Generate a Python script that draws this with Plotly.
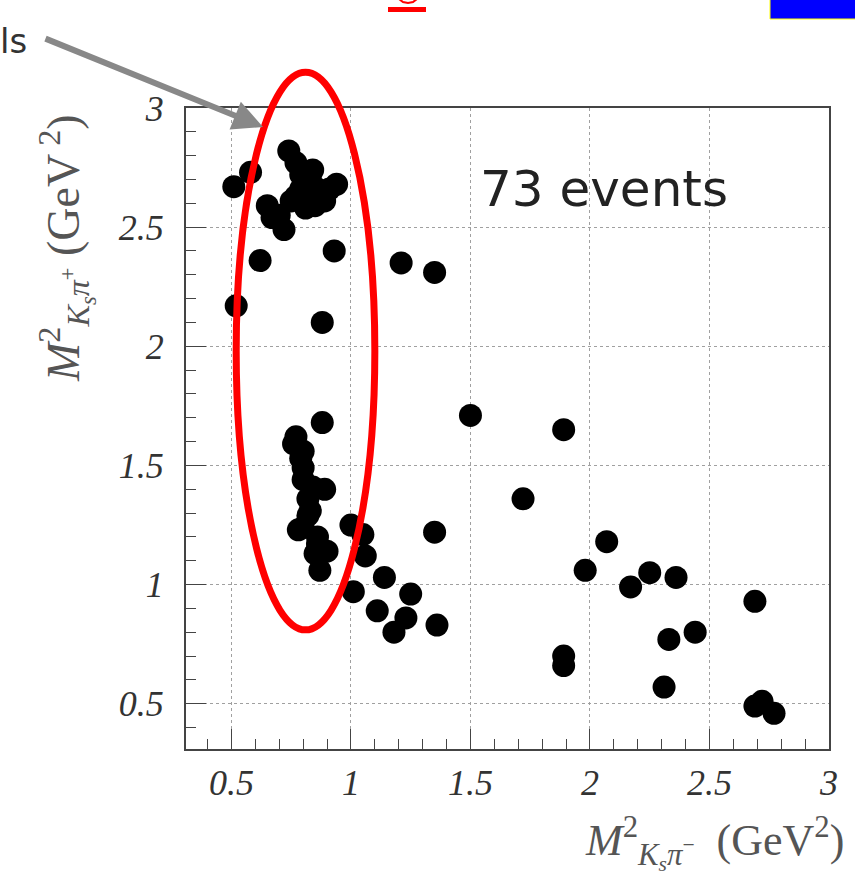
import plotly.graph_objects as go

# Dalitz-plot events: M^2(Ks pi-) vs M^2(Ks pi+), in GeV^2
m2_kspim = [
    0.51, 0.58, 0.74, 0.77, 0.84, 0.86, 0.79, 0.94, 0.89, 0.81, 0.65, 0.67, 0.72,
    0.77, 0.93, 0.62, 0.52, 0.88, 1.21, 1.35, 0.83, 0.75, 0.85, 0.79, 0.70, 0.91,
    0.88, 0.77, 0.80, 0.80, 0.80, 0.89, 0.82, 0.82, 0.80, 0.86, 0.90, 0.87, 1.00,
    1.05, 1.06, 1.14, 1.01, 1.25, 1.11, 1.23, 1.18, 1.36, 1.35, 0.78, 0.84, 0.79,
    0.85, 0.83, 0.76, 0.86,
    1.50, 1.89, 1.72, 2.07, 1.98, 2.25, 2.36, 2.17, 2.69, 2.44, 2.33, 1.89, 1.89,
    2.31, 2.69, 2.72, 2.77,
]
m2_kspip = [
    2.67, 2.73, 2.82, 2.77, 2.74, 2.66, 2.66, 2.68, 2.61, 2.58, 2.59, 2.54, 2.49,
    2.63, 2.40, 2.36, 2.17, 2.10, 2.35, 2.31, 2.71, 2.61, 2.59, 2.72, 2.55, 2.66,
    1.68, 1.62, 1.56, 1.49, 1.44, 1.40, 1.36, 1.29, 1.24, 1.20, 1.14, 1.06, 1.25,
    1.21, 1.12, 1.03, 0.97, 0.96, 0.89, 0.86, 0.80, 0.83, 1.22, 1.23, 1.41, 1.53,
    1.13, 1.31, 1.59, 1.17,
    1.71, 1.65, 1.36, 1.18, 1.06, 1.05, 1.03, 0.99, 0.93, 0.80, 0.77, 0.70, 0.66,
    0.57, 0.49, 0.51, 0.46,
]

tick_vals = [0.5, 1, 1.5, 2, 2.5, 3]
tick_text = ["0.5", "1", "1.5", "2", "2.5", "3"]

X_RANGE = [0.31, 3.0]
Y_RANGE = [0.31, 3.0]

# signal region highlighted with an ellipse (data coordinates)
roi_center = (0.81, 1.98)
roi_half = (0.29, 1.17)

W, H = 855, 879
MARGIN = dict(l=186, r=26, t=108, b=130, pad=0)
PW = W - MARGIN["l"] - MARGIN["r"]
PH = H - MARGIN["t"] - MARGIN["b"]


def data_to_paper_x(v):
    return (v - X_RANGE[0]) / (X_RANGE[1] - X_RANGE[0])


def data_to_paper_y(v):
    return (v - Y_RANGE[0]) / (Y_RANGE[1] - Y_RANGE[0])


def px_x(p):
    return (p - MARGIN["l"]) / PW


def px_y(p):
    return (H - MARGIN["b"] - p) / PH


serif = "Liberation Serif"
sans = "DejaVu Sans"

fig = go.Figure()
fig.add_trace(go.Scatter(
    x=m2_kspim, y=m2_kspip, mode="markers",
    marker=dict(size=23, color="black", line=dict(width=0)),
    hoverinfo="skip", showlegend=False,
))

axis_common = dict(
    tickvals=tick_vals, ticktext=tick_text,
    ticks="inside", ticklen=20, tickwidth=1, tickcolor="#444",
    showline=True, linecolor="#444", linewidth=2, mirror=True,
    showgrid=True, gridcolor="#a0a0a0", gridwidth=1, griddash="dot",
    zeroline=False,
    tickfont=dict(family=serif, size=36, color="#333", style="italic"),
    minor=dict(ticks="inside", ticklen=10, tickwidth=1, tickcolor="#444",
               dtick=0.1, tick0=0, showgrid=False),
)

xaxis = dict(axis_common, range=X_RANGE, ticklabelstandoff=1)
yaxis = dict(axis_common, range=Y_RANGE, ticklabelstandoff=13)


def px_path(points):
    """SVG path in paper units from a list of pixel (x, y) pairs."""
    parts = []
    for i, (a, b) in enumerate(points):
        parts.append(("M" if i == 0 else "L") + f" {px_x(a):.5f} {px_y(b):.5f}")
    return " ".join(parts)


shapes = [
    # highlighted region
    dict(type="circle", xref="paper", yref="paper",
         x0=data_to_paper_x(roi_center[0] - roi_half[0]),
         x1=data_to_paper_x(roi_center[0] + roi_half[0]),
         y0=data_to_paper_y(roi_center[1] - roi_half[1]),
         y1=data_to_paper_y(roi_center[1] + roi_half[1]),
         line=dict(color="#ff0000", width=7), layer="above"),
    # link underline at the top, with the tail of its glyph
    dict(type="rect", xref="paper", yref="paper",
         x0=px_x(388), x1=px_x(426), y0=px_y(12), y1=px_y(7),
         fillcolor="#ff0000", line=dict(width=0)),
    dict(type="path", xref="paper", yref="paper",
         path=px_path([(399, -1), (403, 2), (408, 3), (413, 2), (417, -1)]),
         line=dict(color="#ff0000", width=2)),
    # blue button in the corner
    dict(type="rect", xref="paper", yref="paper",
         x0=px_x(770), x1=px_x(858), y0=px_y(19), y1=px_y(-5),
         fillcolor="#0000ff", line=dict(color="#ffff00", width=1)),
]

annotations = [
    dict(text=f"{len(m2_kspim)} events", xref="paper", yref="paper",
         x=px_x(478), y=px_y(189), xanchor="left", yanchor="middle",
         showarrow=False, font=dict(family=sans, size=50, color="#222")),
    dict(text="ls", xref="paper", yref="paper",
         x=px_x(-2), y=px_y(41), xanchor="left", yanchor="middle",
         showarrow=False, font=dict(family=sans, size=34, color="#333")),
    dict(text="", xref="paper", yref="paper",
         x=px_x(263), y=px_y(127), ax=44 - 263, ay=38 - 127,
         showarrow=True, arrowhead=2, arrowsize=1.0, arrowwidth=6,
         arrowcolor="#888888", standoff=0),
    dict(text="<i>M</i><sup>2</sup><sub><i>K<sub>s</sub>π</i><sup>+</sup></sub> (GeV<sup> 2</sup>)",
         xref="paper", yref="paper", x=px_x(66), y=px_y(248),
         xanchor="center", yanchor="middle", textangle=-90, showarrow=False,
         font=dict(family=serif, size=46, color="#555")),
    dict(text="<i>M</i><sup>2</sup><sub><i>K<sub>s</sub>π</i><sup>−</sup></sub>  (GeV<sup>2</sup>)",
         xref="paper", yref="paper", x=px_x(846), y=px_y(843),
         xanchor="right", yanchor="middle", showarrow=False,
         font=dict(family=serif, size=44, color="#555")),
]

fig.update_layout(
    width=W, height=H, margin=MARGIN,
    paper_bgcolor="white", plot_bgcolor="white",
    xaxis=xaxis, yaxis=yaxis,
    shapes=shapes, annotations=annotations,
    showlegend=False,
)

fig.write_html("out.html")
